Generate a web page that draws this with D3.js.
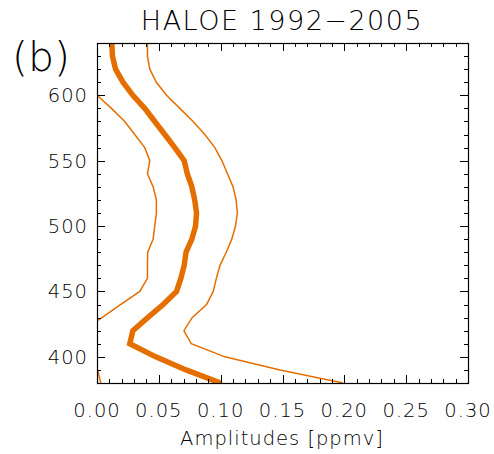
<!DOCTYPE html>
<html><head><meta charset="utf-8">
<script src="https://cdn.jsdelivr.net/npm/d3@7"></script>
<style>body{margin:0;background:#fff}text{font-family:"DejaVu Sans",sans-serif;fill:#000}</style>
</head><body>
<script>
const levels = [380,390,400,410,420,430,440,450,460,470,480,490,500,510,520,530,540,550,560,570,580,590,600,610,620,630,640];
const meanAmp = [0.100,0.072,0.0475,0.0265,0.029,0.041,0.0535,0.0643,0.0678,0.0705,0.072,0.0767,0.0797,0.0805,0.079,0.0767,0.073,0.0705,0.0629,0.0548,0.0467,0.0386,0.029,0.021,0.015,0.0125,0.012];
const lowerAmp = [0.003,0.0005,-0.01,-0.023,-0.012,0.004,0.019,0.0346,0.0408,0.0408,0.041,0.0454,0.0467,0.048,0.048,0.0454,0.0408,0.0427,0.0386,0.0305,0.0224,0.0117,0.0,-0.006,-0.013,-0.016,-0.017];
const upperAmp = [0.199,0.148,0.1034,0.0762,0.0703,0.0769,0.0886,0.094,0.0965,0.0995,0.1045,0.109,0.112,0.1135,0.1125,0.110,0.1055,0.101,0.0953,0.0872,0.0777,0.067,0.0562,0.048,0.0427,0.0408,0.0408];
const xTicks = [0.00,0.05,0.10,0.15,0.20,0.25,0.30];
const yTicks = [400,450,500,550,600];
const title = "HALOE 1992\u22122005";
const panel = "(b)";
const xTitle = "Amplitudes [ppmv]";

const W=494,H=454, L=97, R=468, T=43, B=383;
const col = "#e46f00";
const svg = d3.select("body").append("svg").attr("width",W).attr("height",H);
const x = d3.scaleLinear().domain([0,0.3]).range([L,R]);
const y = d3.scaleLinear().domain([380,640]).range([B,T]);

svg.append("clipPath").attr("id","c").append("rect").attr("x",L).attr("y",T).attr("width",R-L).attr("height",B-T);
const g = svg.append("g").attr("clip-path","url(#c)");
const line = arr => d3.line().x((d,i)=>x(arr[i])).y(d=>y(d))(levels);
g.append("path").attr("d",line(lowerAmp)).attr("fill","none").attr("stroke",col).attr("stroke-width",1.5);
g.append("path").attr("d",line(upperAmp)).attr("fill","none").attr("stroke",col).attr("stroke-width",1.5);
g.append("path").attr("d",line(meanAmp)).attr("fill","none").attr("stroke",col).attr("stroke-width",5.5);

// ticks
const minorX = d3.range(0,0.3001,0.01);
const minorY = d3.range(390,640,10);
const tk = svg.append("g").attr("stroke","#000").attr("stroke-width",1);
minorX.forEach(v=>{
  const major = xTicks.some(t=>Math.abs(t-v)<1e-6);
  const len = major?8:4;
  const px = Math.round(x(v))+0.5;
  tk.append("line").attr("x1",px).attr("x2",px).attr("y1",B).attr("y2",B-len);
  tk.append("line").attr("x1",px).attr("x2",px).attr("y1",T).attr("y2",T+len);
});
minorY.forEach(v=>{
  const major = yTicks.includes(v);
  const len = major?8:4;
  const py = Math.round(y(v))+0.5;
  tk.append("line").attr("x1",L).attr("x2",L+len).attr("y1",py).attr("y2",py);
  tk.append("line").attr("x1",R).attr("x2",R-len).attr("y1",py).attr("y2",py);
});
svg.append("rect").attr("x",L+0.5).attr("y",T+0.5).attr("width",R-L).attr("height",B-T)
  .attr("fill","none").attr("stroke","#000").attr("stroke-width",1.2);

// labels
xTicks.forEach(v=>{
  svg.append("text").attr("x",x(v)).attr("y",417).attr("text-anchor","middle")
    .attr("font-size",19.5).attr("font-weight",200).attr("letter-spacing",1).text(v.toFixed(2));
});
yTicks.forEach(v=>{
  svg.append("text").attr("x",88).attr("y",y(v)+7).attr("text-anchor","end")
    .attr("font-size",19.5).attr("font-weight",200).attr("letter-spacing",1).text(v);
});
svg.append("text").attr("x",282).attr("y",445).attr("text-anchor","middle")
  .attr("font-size",19.5).attr("font-weight",200).attr("letter-spacing",1).text(xTitle);
svg.append("text").attr("x",282).attr("y",30).attr("text-anchor","middle")
  .attr("font-size",27).attr("font-weight",200).attr("letter-spacing",1.5).text(title);
svg.append("text").attr("x",12).attr("y",71).attr("font-size",41).attr("font-weight",200).text(panel);
</script>
</body></html>
